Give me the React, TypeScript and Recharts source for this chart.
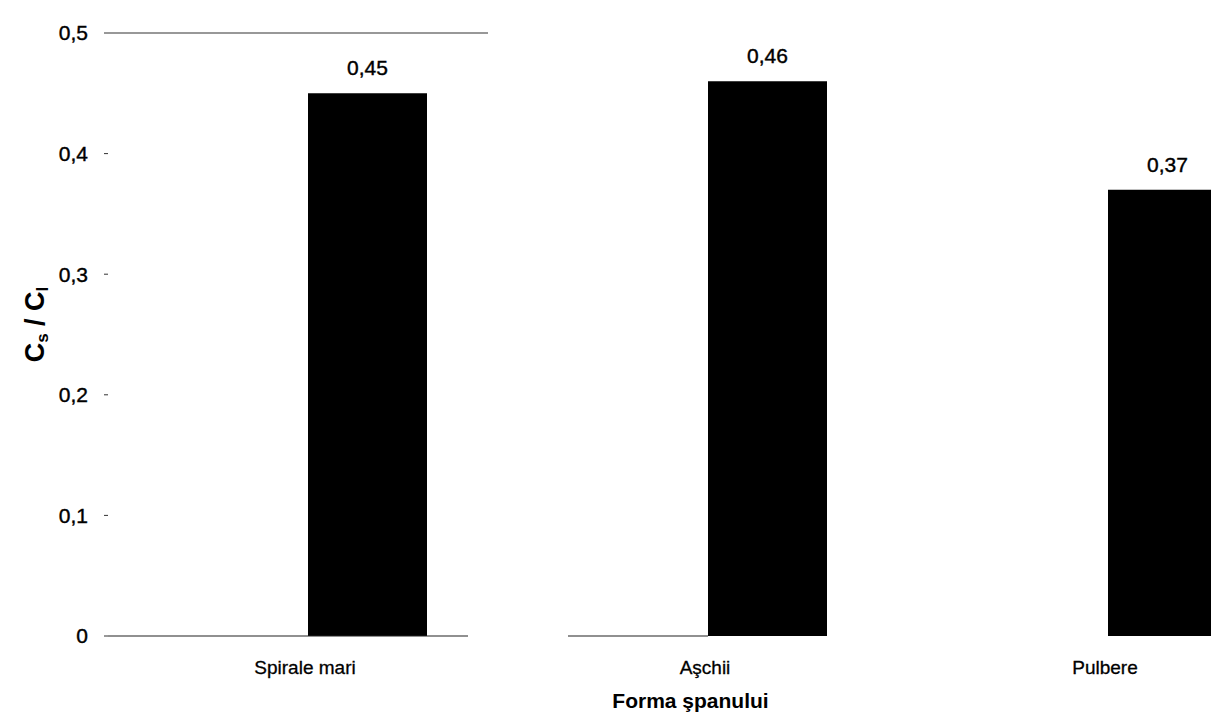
import React from 'react';
import { BarChart, Bar, XAxis, YAxis, LabelList, ReferenceLine, Label } from 'recharts';

const categories = ['Spirale mari', 'Aşchii', 'Pulbere'];
const ratioValues = [0.45, 0.46, 0.37];
const yTicks = [0, 0.1, 0.2, 0.3, 0.4, 0.5];

const data = categories.map((c, i) => ({ forma: c, ratio: ratioValues[i] }));

const FONT = '"Liberation Sans", Arial, Helvetica, sans-serif';
const comma = (v: any) => String(v).replace('.', ',');

const YLabel = (props: any) => {
  const vb = props.viewBox || {};
  const cx = (vb.x ?? 0) + 35;
  const cy = (vb.y ?? 0) + (vb.height ?? 0) / 2 - 10;
  return (
    <text
      x={cx}
      y={cy}
      transform={`rotate(-90, ${cx}, ${cy})`}
      textAnchor="middle"
      dominantBaseline="central"
      fontFamily={FONT}
      fontWeight="bold"
      fontSize={27}
      fill="#000"
    >
      <tspan>C</tspan>
      <tspan dy={7} fontSize={17}>s</tspan>
      <tspan dy={-7}> / C</tspan>
      <tspan dy={7} fontSize={17}>l</tspan>
    </text>
  );
};

export default function App() {
  return (
    <div style={{ position: 'fixed', left: 0, top: 0, width: 1211, height: 720, overflow: 'hidden', background: '#fff' }}>
      <BarChart
        width={1367}
        height={720}
        data={data}
        margin={{ top: 33, right: 0, bottom: 0, left: 0 }}
        barSize={119}
      >
        <ReferenceLine y={0.5} stroke="#333" strokeWidth={1.2} strokeDasharray="380 3000" ifOverflow="extendDomain" />
        <XAxis
          dataKey="forma"
          padding={{ left: 59, right: 0 }}
          height={84}
          tickLine={false}
          tickSize={0}
          tickMargin={25}
          axisLine={{ stroke: '#222', strokeWidth: 1.2, strokeDasharray: '360 100 140 3000' }}
          tick={{ fontFamily: FONT, fontSize: 19, fill: '#000', stroke: '#000', strokeWidth: 0.3, dx: -62 }}
          interval={0}
        >
          <Label
            value="Forma şpanului"
            position="insideBottom"
            offset={12}
            dx={-47}
            style={{ fontFamily: FONT, fontSize: 21, fontWeight: 'bold', fill: '#000' }}
          />
        </XAxis>
        <YAxis
          width={108}
          domain={[0, 0.5]}
          ticks={yTicks}
          tickFormatter={comma}
          axisLine={false}
          tickLine={{ stroke: '#333' }}
          tickSize={4}
          tickMargin={16}
          tick={{ fontFamily: FONT, fontSize: 21, fill: '#000', stroke: '#000', strokeWidth: 0.4 }}
        >
          <Label content={<YLabel />} />
        </YAxis>
        <Bar dataKey="ratio" fill="#000" isAnimationActive={false}>
          <LabelList
            dataKey="ratio"
            position="top"
            offset={18}
            formatter={comma}
            style={{ fontFamily: FONT, fontSize: 21, fill: '#000', stroke: '#000', strokeWidth: 0.4 }}
          />
        </Bar>
      </BarChart>
    </div>
  );
}
